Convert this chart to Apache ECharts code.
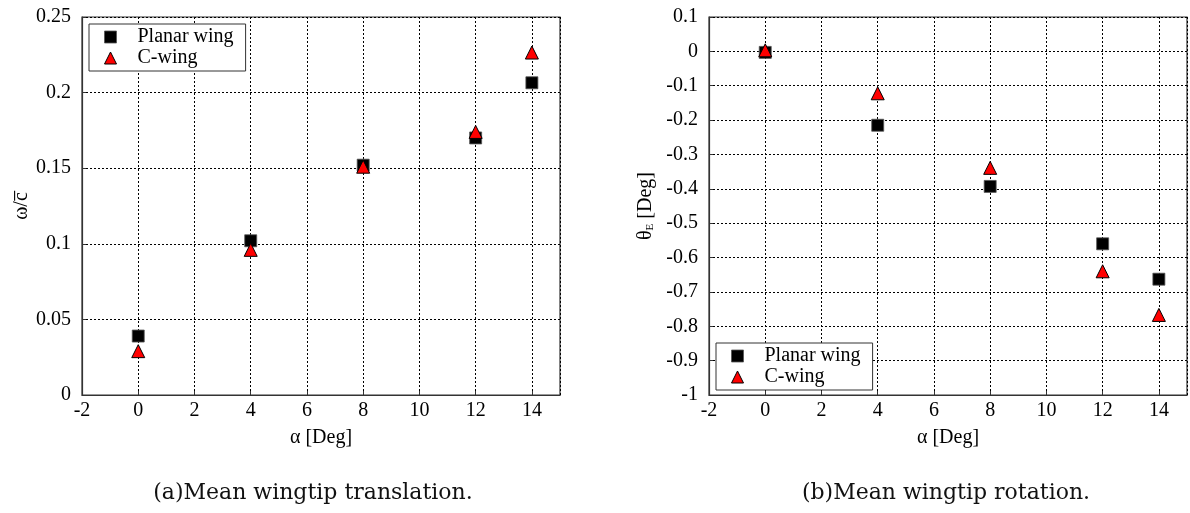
<!DOCTYPE html>
<html>
<head>
<meta charset="utf-8">
<script src="https://cdn.jsdelivr.net/npm/echarts@6/dist/echarts.min.js"></script>
<style>
  html, body { margin: 0; padding: 0; background: #fff; }
  #chart { width: 1190px; height: 513px; }
</style>
</head>
<body>
<div id="chart"></div>
<script>
// Angle of attack (deg)
const alphaDeg = [0, 4, 8, 12, 14];

// Mean wingtip translation, omega / c-bar
const transPlanar = [0.039, 0.102, 0.152, 0.170, 0.2065];
const transCWing  = [0.029, 0.096, 0.151, 0.174, 0.2265];

// Mean wingtip rotation, theta_E (deg)
const rotPlanar = [-0.003, -0.215, -0.393, -0.560, -0.663];
const rotCWing  = [0.003, -0.122, -0.339, -0.640, -0.767];

const seriesNames = ['Planar wing', 'C-wing'];
const captions = ['(a)Mean wingtip translation.', '(b)Mean wingtip rotation.'];

const FONT = '"Liberation Serif", "Times New Roman", serif';
const CAPTION_FONT = '"DejaVu Serif", serif';
const FS = 20;

const pairs = (xs, ys) => xs.map((x, i) => [x, ys[i]]);

function xAxisFor(gridIndex) {
  return {
    type: 'value', gridIndex, min: -2, max: 15, interval: 2,
    name: 'α [Deg]', nameLocation: 'middle', nameGap: 33,
    nameTextStyle: { fontFamily: FONT, fontSize: FS, color: '#000' },
    axisLine: { show: true, onZero: false, lineStyle: { color: '#333', width: 1.2 } },
    axisTick: { show: true, inside: true, length: 4, lineStyle: { color: '#333' } },
    axisLabel: { fontFamily: FONT, fontSize: FS, color: '#000', margin: 6, showMaxLabel: false },
    splitLine: { show: true, lineStyle: { color: '#000', type: [2, 2], width: 1 } }
  };
}

function yAxisFor(gridIndex, min, max, interval, name, nameGap, rich) {
  return {
    type: 'value', gridIndex, min, max, interval,
    name, nameLocation: 'middle', nameGap, nameRotate: 90,
    nameTextStyle: { fontFamily: FONT, fontSize: FS, color: '#000', rich },
    axisLine: { show: true, onZero: false, lineStyle: { color: '#333', width: 1.2 } },
    axisTick: { show: true, inside: true, length: 4, lineStyle: { color: '#333' } },
    axisLabel: { fontFamily: FONT, fontSize: FS, color: '#000', margin: 11 },
    splitLine: { show: true, lineStyle: { color: '#000', type: [2, 2], width: 1 } }
  };
}

const squareStyle = { color: '#000', borderColor: '#555', borderWidth: 0.8, opacity: 1 };
const triangleStyle = { color: '#ff0000', borderColor: '#000', borderWidth: 1, opacity: 1 };

function legendFor(left, top) {
  return {
    orient: 'vertical', left, top,
    backgroundColor: '#fff',
    borderColor: '#333', borderWidth: 1,
    padding: [3, 12, 3, 15],
    itemGap: 1, itemWidth: 12, itemHeight: 12,
    textStyle: { fontFamily: FONT, fontSize: FS, color: '#000', padding: [0, 0, 0, 16] },
    data: [
      { name: seriesNames[0], icon: 'rect', itemStyle: squareStyle },
      { name: seriesNames[1], icon: 'triangle', itemStyle: triangleStyle }
    ]
  };
}

function scatter(name, xi, yi, data, symbol, size, style) {
  return {
    name, type: 'scatter', xAxisIndex: xi, yAxisIndex: yi,
    symbol, symbolSize: size, data, itemStyle: style, z: symbol === 'triangle' ? 4 : 3
  };
}

const captionStyle = { fontFamily: CAPTION_FONT, fontSize: 22, fontWeight: 'normal', color: '#111' };

const chart = echarts.init(document.getElementById('chart'), null, { renderer: 'canvas' });
chart.setOption({
  animation: false,
  backgroundColor: '#fff',
  title: [
    { text: captions[0], left: 308, top: 477, textAlign: 'center', textStyle: captionStyle },
    { text: captions[1], left: 941, top: 477, textAlign: 'center', textStyle: captionStyle }
  ],
  grid: [
    { left: 82, top: 17, width: 478, height: 378, show: true, borderColor: '#333', borderWidth: 1.2, backgroundColor: 'transparent' },
    { left: 709, top: 17, width: 478, height: 378, show: true, borderColor: '#333', borderWidth: 1.2, backgroundColor: 'transparent' }
  ],
  xAxis: [xAxisFor(0), xAxisFor(1)],
  yAxis: [
    yAxisFor(0, 0, 0.25, 0.05, 'ω/c\u0305', 50, {}),
    yAxisFor(1, -1, 0.1, 0.1, '{t|θ}{s|E}{t| [Deg]}', 53, {
      t: { fontFamily: FONT, fontSize: FS, color: '#000' },
      s: { fontFamily: FONT, fontSize: 11, color: '#000', verticalAlign: 'bottom', padding: [9, 0, 0, 0] }
    })
  ],
  legend: [legendFor(89, 24), legendFor(716, 343)],
  series: [
    scatter(seriesNames[0], 0, 0, pairs(alphaDeg, transPlanar), 'rect', 12, squareStyle),
    scatter(seriesNames[1], 0, 0, pairs(alphaDeg, transCWing), 'triangle', 13, triangleStyle),
    scatter(seriesNames[0], 1, 1, pairs(alphaDeg, rotPlanar), 'rect', 12, squareStyle),
    scatter(seriesNames[1], 1, 1, pairs(alphaDeg, rotCWing), 'triangle', 13, triangleStyle)
  ]
});
</script>
</body>
</html>
